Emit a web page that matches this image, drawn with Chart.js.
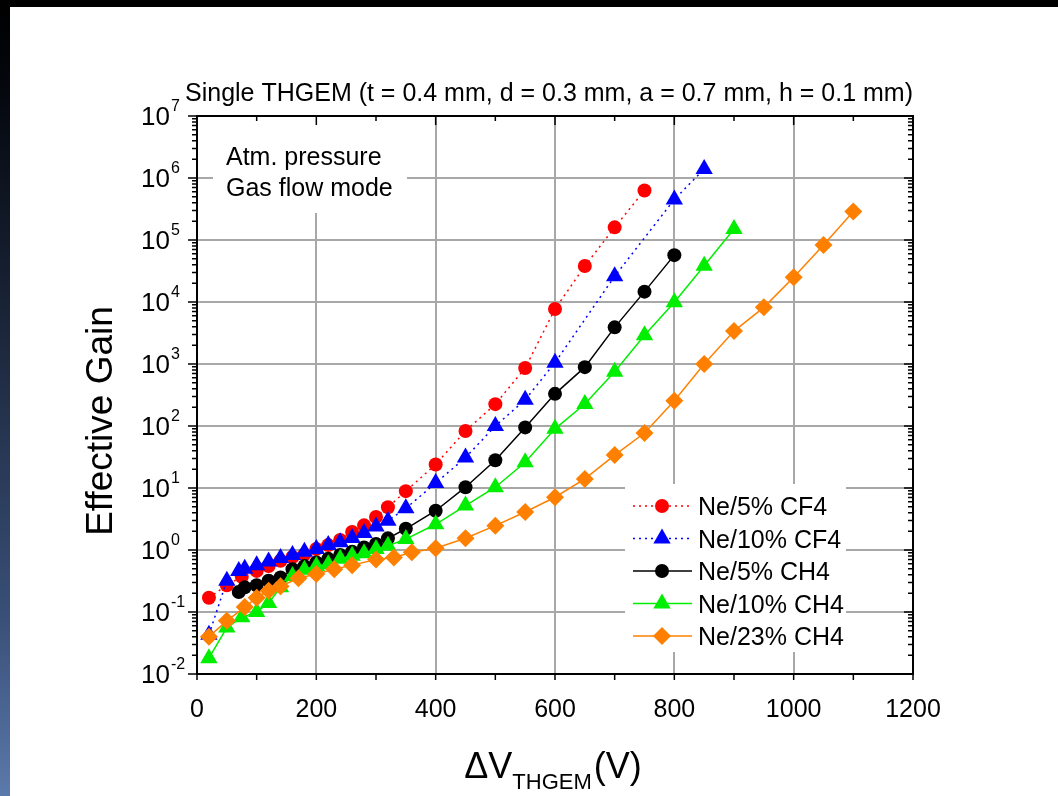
<!DOCTYPE html>
<html>
<head>
<meta charset="utf-8">
<script src="https://cdn.jsdelivr.net/npm/chart.js@4.4.1/dist/chart.umd.min.js"></script>
<style>
    html, body { margin: 0; padding: 0; background: #fff; }
    #wrap { position: relative; width: 1058px; height: 796px; overflow: hidden; background: #fff; }
    #topbar { position: absolute; left: 0; top: 0; width: 1058px; height: 7px; background: #000; z-index: 2; }
    #sidebar { position: absolute; left: 0; top: 0; width: 10px; height: 796px; z-index: 2;
        background: linear-gradient(to bottom, #000 0%, #05080f 12%, #1e2a40 45%, #3a5078 78%, #5b79ab 100%); }
    #chart { position: absolute; left: 0; top: 0; }
</style>
</head>
<body>
<div id="wrap">
    <canvas id="chart" width="1058" height="796"></canvas>
    <div id="topbar"></div>
    <div id="sidebar"></div>
</div>
<script>
// voltage (V) and effective gain per gas mixture
const cf4_5_V  = [20, 50, 75, 100, 120, 140, 160, 180, 200, 220, 240, 260, 280, 300, 320, 350, 400, 450, 500, 550, 600, 650, 700, 750];
const cf4_5_G  = [0.17, 0.27, 0.37, 0.46, 0.55, 0.67, 0.77, 0.85, 1.04, 1.2, 1.45, 1.95, 2.5, 3.4, 4.9, 8.9, 24, 83, 225, 860, 7700, 38000, 160000, 630000];

const cf4_10_V = [20, 50, 70, 80, 100, 120, 140, 160, 180, 200, 220, 240, 260, 280, 300, 320, 350, 400, 450, 500, 550, 600, 700, 800, 850];
const cf4_10_G = [0.043, 0.32, 0.46, 0.5, 0.57, 0.65, 0.74, 0.83, 0.94, 1.04, 1.2, 1.33, 1.56, 1.88, 2.4, 2.97, 4.7, 12, 31, 100, 265, 1050, 26000, 450000, 1400000];

const ch4_5_V  = [70, 80, 100, 120, 140, 160, 180, 200, 220, 240, 260, 280, 300, 320, 350, 400, 450, 500, 550, 600, 650, 700, 750, 800];
const ch4_5_G  = [0.21, 0.25, 0.27, 0.32, 0.36, 0.49, 0.55, 0.63, 0.72, 0.83, 0.94, 1.1, 1.25, 1.54, 2.2, 4.3, 10.3, 28, 95, 330, 890, 3900, 14700, 57000];

const ch4_10_V = [20, 50, 75, 100, 120, 140, 160, 180, 200, 220, 240, 260, 280, 300, 320, 350, 400, 450, 500, 550, 600, 650, 700, 750, 800, 850, 900];
const ch4_10_G = [0.018, 0.056, 0.082, 0.10, 0.14, 0.25, 0.38, 0.48, 0.55, 0.59, 0.72, 0.81, 0.89, 1.04, 1.17, 1.5, 2.6, 5.2, 10.3, 26, 90, 226, 750, 2900, 9900, 38500, 150000];

const ch4_23_V = [20, 50, 80, 100, 120, 140, 170, 200, 230, 260, 300, 330, 360, 400, 450, 500, 550, 600, 650, 700, 750, 800, 850, 900, 950, 1000, 1050, 1100];
const ch4_23_G = [0.040, 0.072, 0.12, 0.17, 0.22, 0.26, 0.35, 0.41, 0.49, 0.57, 0.70, 0.76, 0.92, 1.07, 1.55, 2.47, 4.1, 7.1, 14, 34, 77, 256, 1000, 3400, 8200, 25000, 83000, 288000];

const seriesNames = ['Ne/5% CF4', 'Ne/10% CF4', 'Ne/5% CH4', 'Ne/10% CH4', 'Ne/23% CH4'];
const xTicks = [0, 200, 400, 600, 800, 1000, 1200];
const yDecades = [-2, -1, 0, 1, 2, 3, 4, 5, 6, 7];

const titleText = 'Single THGEM (t = 0.4 mm, d = 0.3 mm, a = 0.7 mm, h = 0.1 mm)';
const noteLines = ['Atm. pressure', 'Gas flow mode'];

const FONT = '"Liberation Sans", Arial, Helvetica, sans-serif';
const GRID = '#a8a8a8';

const pts = (xs, ys) => xs.map((x, i) => ({ x, y: ys[i] }));

function series(label, xs, ys, color, style, radius, dash, order) {
    return {
        label,
        data: pts(xs, ys),
        borderColor: color,
        backgroundColor: color,
        borderWidth: 1.5,
        borderDash: dash,
        pointStyle: style,
        pointRadius: radius,
        pointBorderWidth: 0,
        pointBackgroundColor: color,
        showLine: true,
        tension: 0,
        order // later series sit on top, like the reference
    };
}

const datasets = [
    series(seriesNames[0], cf4_5_V, cf4_5_G, '#ff0000', 'circle', 7, [2, 4], 4),
    series(seriesNames[1], cf4_10_V, cf4_10_G, '#0000ff', 'triangle', 10, [2, 4], 3),
    series(seriesNames[2], ch4_5_V, ch4_5_G, '#000000', 'circle', 7, [], 2),
    series(seriesNames[3], ch4_10_V, ch4_10_G, '#00ee00', 'triangle', 10, [], 1),
    series(seriesNames[4], ch4_23_V, ch4_23_G, '#ff8000', 'rectRot', 9, [], 0)
];

// white boxes behind the note and the legend (they hide the grid)
const noteBox = { x: 213, y: 117, w: 194, h: 96 };
const legendBox = { x: 625, y: 484, w: 221, h: 168 };

const decorPlugin = {
    id: 'decor',
    beforeDatasetsDraw(chart) {
        const c = chart.ctx;
        c.save();
        c.fillStyle = '#fff';
        c.fillRect(noteBox.x, noteBox.y, noteBox.w, noteBox.h);
        c.fillRect(legendBox.x, legendBox.y, legendBox.w, legendBox.h);
        c.restore();
    },
    afterDraw(chart) {
        const c = chart.ctx;
        const a = chart.chartArea;
        const xs = chart.scales.x;
        const ys = chart.scales.y;
        c.save();

        // frame
        c.strokeStyle = '#000';
        c.lineWidth = 2;
        c.strokeRect(a.left, a.top, a.right - a.left, a.bottom - a.top);

        // x ticks: out on bottom, in on top
        c.lineWidth = 1.5;
        for (let v = 0; v <= 1200; v += 100) {
            const px = xs.getPixelForValue(v);
            const major = v % 200 === 0;
            c.beginPath();
            c.moveTo(px, a.bottom); c.lineTo(px, a.bottom + 6);
            c.moveTo(px, a.top); c.lineTo(px, a.top + (major ? 9 : 5));
            c.stroke();
        }

        // y ticks: out on left, in on right, with log minors
        yDecades.forEach((e, i) => {
            const py = ys.getPixelForValue(Math.pow(10, e));
            c.beginPath();
            c.moveTo(a.left - 9, py); c.lineTo(a.left, py);
            c.moveTo(a.right - 9, py); c.lineTo(a.right, py);
            c.stroke();
            if (i < yDecades.length - 1) {
                for (let m = 2; m <= 9; m++) {
                    const pm = ys.getPixelForValue(m * Math.pow(10, e));
                    c.beginPath();
                    c.moveTo(a.left - 5, pm); c.lineTo(a.left, pm);
                    c.moveTo(a.right - 5, pm); c.lineTo(a.right, pm);
                    c.stroke();
                }
            }
        });

        // y labels 10^n
        c.fillStyle = '#000';
        yDecades.forEach(e => {
            const py = ys.getPixelForValue(Math.pow(10, e));
            c.font = `26px ${FONT}`;
            c.textAlign = 'right';
            c.textBaseline = 'alphabetic';
            c.fillText('10', 170, py + 9);
            c.font = `16px ${FONT}`;
            c.textAlign = 'left';
            c.fillText(String(e), 171, py - 5);
        });

        // title
        c.font = `25px ${FONT}`;
        c.textAlign = 'center';
        c.fillText(titleText, 549, 101);

        // y title
        c.save();
        c.translate(112, 421);
        c.rotate(-Math.PI / 2);
        c.font = `37px ${FONT}`;
        c.textAlign = 'center';
        c.fillText('Effective Gain', 0, 0);
        c.restore();

        // x title: ΔV_THGEM (V)
        const big = `36px ${FONT}`, sub = `22px ${FONT}`;
        c.textAlign = 'left';
        c.font = big; const w1 = c.measureText('\u0394V').width;
        c.font = sub; const w2 = c.measureText('THGEM').width;
        c.font = big; const w3 = c.measureText('(V)').width;
        let tx = 553 - (w1 + w2 + w3 + 2) / 2;
        c.font = big; c.fillText('\u0394V', tx, 778); tx += w1;
        c.font = sub; c.fillText('THGEM', tx, 789); tx += w2 + 2;
        c.font = big; c.fillText('(V)', tx, 778);

        // note
        c.font = `25px ${FONT}`;
        noteLines.forEach((t, i) => c.fillText(t, 226, 165 + i * 31));

        // legend
        chart.data.datasets.forEach((ds, i) => {
            const cy = 506 + i * 32.5;
            c.save();
            c.strokeStyle = ds.borderColor;
            c.lineWidth = ds.borderWidth;
            c.setLineDash(ds.borderDash || []);
            c.beginPath();
            c.moveTo(633, cy); c.lineTo(692, cy);
            c.stroke();
            c.setLineDash([]);
            c.fillStyle = ds.pointBackgroundColor;
            Chart.helpers.drawPoint(c, { pointStyle: ds.pointStyle, radius: ds.pointRadius, rotation: 0, borderWidth: 0 }, 662, cy);
            c.restore();
            c.fillStyle = '#000';
            c.font = `25px ${FONT}`;
            c.textAlign = 'left';
            c.fillText(ds.label, 698, cy + 9);
        });

        c.restore();
    }
};

const ctx = document.getElementById('chart').getContext('2d');
new Chart(ctx, {
    type: 'scatter',
    data: { datasets },
    options: {
        responsive: false,
        animation: false,
        layout: { padding: { left: 197, right: 145, top: 116, bottom: 0 } },
        plugins: { legend: { display: false }, tooltip: { enabled: false } },
        scales: {
            x: {
                type: 'linear',
                min: 0,
                max: 1200,
                afterBuildTicks: s => { s.ticks = xTicks.map(v => ({ value: v })); },
                afterFit: s => { s.height = 122; },
                ticks: { color: '#000', font: { family: FONT, size: 25 }, padding: 21, maxRotation: 0,
                    callback: v => String(v) },
                grid: { color: GRID, lineWidth: 2, drawTicks: false },
                border: { display: false }
            },
            y: {
                type: 'logarithmic',
                min: 0.01,
                max: 1e7,
                afterBuildTicks: s => { s.ticks = yDecades.map(e => ({ value: Math.pow(10, e) })); },
                afterFit: s => { s.width = 0; },
                ticks: { display: false },
                grid: { color: GRID, lineWidth: 2, drawTicks: false },
                border: { display: false }
            }
        }
    },
    plugins: [decorPlugin]
});
</script>
</body>
</html>
